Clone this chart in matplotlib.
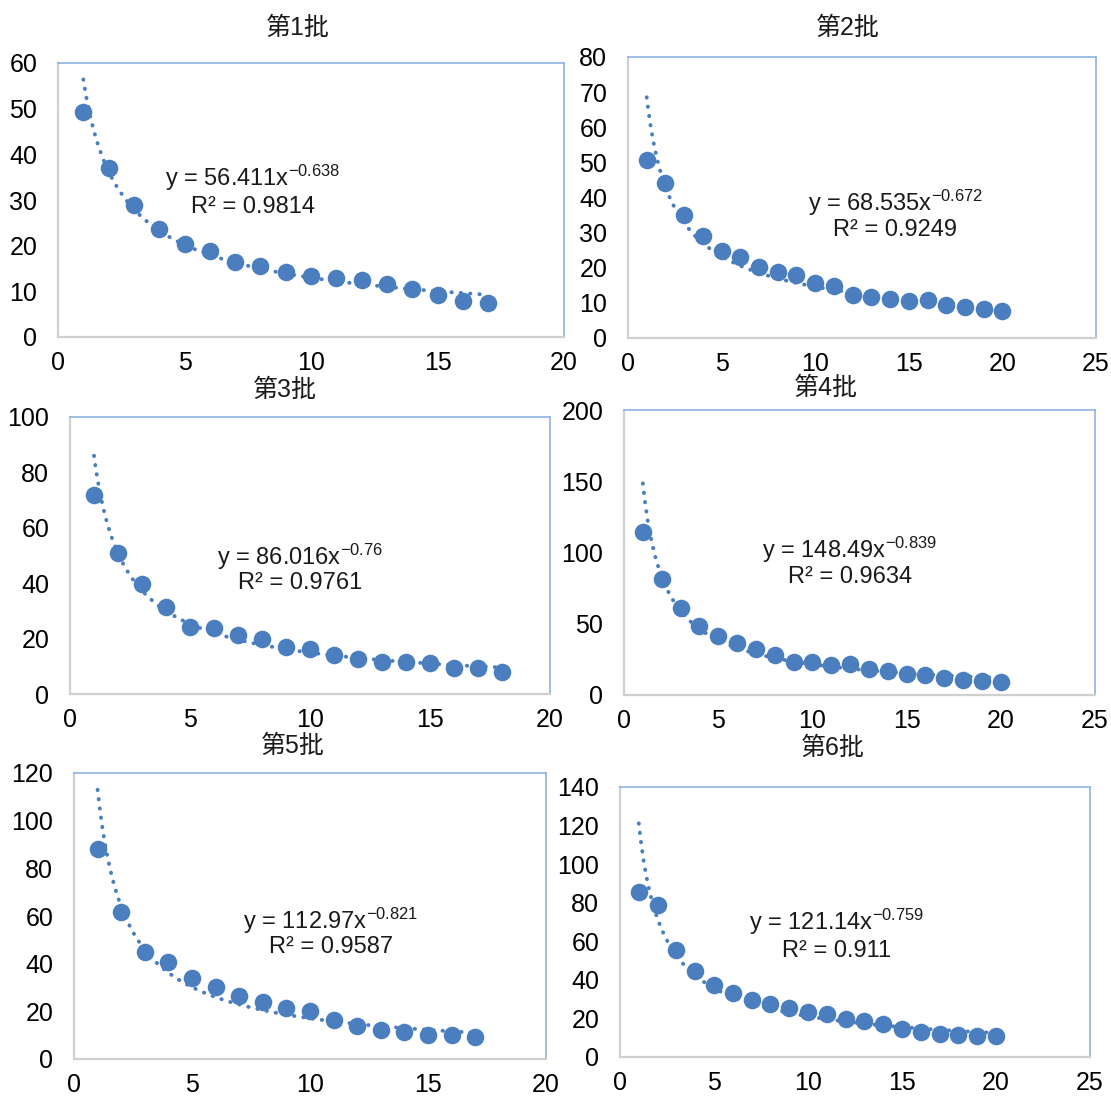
import numpy as np
import matplotlib
matplotlib.use("Agg")
import matplotlib.pyplot as plt

plt.rcParams['font.family'] = ['Liberation Sans', 'Noto Sans CJK SC', 'DejaVu Sans']
plt.rcParams['mathtext.fontset'] = 'custom'
plt.rcParams['mathtext.rm'] = 'Liberation Sans'
plt.rcParams['mathtext.it'] = 'Liberation Sans'

W, H = 1111, 1097

# --- data ---
titles = ['第1批', '第2批', '第3批', '第4批', '第5批', '第6批']

y1 = [49.3, 37.0, 28.8, 23.6, 20.3, 18.8, 16.4, 15.6, 14.3, 13.4, 12.9, 12.5, 11.7, 10.6, 9.3, 7.9, 7.5]
y2 = [50.8, 44.0, 35.1, 29.0, 24.9, 23.2, 20.1, 18.8, 18.0, 15.8, 14.7, 12.3, 11.6, 11.2, 10.4, 10.7,
      9.5, 8.7, 8.2, 7.8]
y3 = [71.7, 50.9, 39.8, 31.3, 24.3, 23.7, 21.3, 19.8, 17.1, 16.4, 14.1, 12.7, 11.7, 11.4, 11.3, 9.3,
      9.3, 7.8]
y4 = [114.6, 81.6, 61.3, 48.7, 41.2, 36.5, 32.0, 28.1, 23.2, 23.2, 20.8, 22.0, 18.5, 17.1, 15.0, 13.8,
      11.9, 10.5, 9.8, 9.4]
y5 = [88.0, 61.7, 44.9, 40.8, 33.8, 30.1, 26.4, 24.0, 21.2, 20.3, 16.3, 14.0, 12.3, 11.4, 10.0, 10.0, 9.3]
y6 = [85.4, 78.9, 55.3, 44.5, 37.3, 33.0, 29.6, 27.3, 25.3, 23.4, 22.2, 19.6, 18.9, 17.2, 14.4, 12.9,
      11.9, 11.2, 10.7, 10.7]
series = [y1, y2, y3, y4, y5, y6]

# power trendline y = a * x^b (from the chart labels)
coef_a = [56.411, 68.535, 86.016, 148.49, 112.97, 121.14]
coef_b = [-0.638, -0.672, -0.76, -0.839, -0.821, -0.759]
r2_text = ['0.9814', '0.9249', '0.9761', '0.9634', '0.9587', '0.911']
a_text = ['56.411', '68.535', '86.016', '148.49', '112.97', '121.14']
b_text = ['-0.638', '-0.672', '-0.76', '-0.839', '-0.821', '-0.759']

x_max = [20, 25, 20, 25, 20, 25]
y_max = [60, 80, 100, 200, 120, 140]
y_step = [10, 10, 20, 50, 20, 20]

# layout in pixels: left, top, right, bottom
boxes = [(58, 63, 564, 337), (628, 57, 1096, 338),
         (70, 417, 550, 694), (624, 410, 1095, 695),
         (74, 773, 546, 1059), (620, 787, 1090, 1057)]
title_pos = [(298, 28), (848, 28), (285, 390), (826, 388), (293, 746), (833, 748)]
eq_pos = [(253, 178, 207), (895, 203, 230), (300, 557, 583),
          (850, 550, 577), (331, 921, 947), (837, 922, 951)]

blue = '#4a7ebf'

fig = plt.figure(figsize=(W / 100, H / 100), dpi=100)
fig.patch.set_facecolor('white')

for i in range(6):
    l, t, r, b = boxes[i]
    ax = fig.add_axes([l / W, 1 - b / H, (r - l) / W, (b - t) / H])
    ys = np.array(series[i])
    xs = np.arange(1, len(ys) + 1)
    ax.scatter(xs, ys, s=160, color=blue, zorder=3, linewidths=0)
    xt = np.linspace(1, len(ys), 300)
    ax.plot(xt, coef_a[i] * xt ** coef_b[i], color=blue, lw=2.8,
            linestyle=(0, (0.1, 2.3)), dash_capstyle='round', zorder=4)

    ax.set_xlim(0, x_max[i])
    ax.set_ylim(0, y_max[i])
    ax.set_xticks(np.arange(0, x_max[i] + 1, 5))
    ax.set_yticks(np.arange(0, y_max[i] + 1, y_step[i]))
    ax.tick_params(length=0, labelsize=18, colors='#000000')
    ax.tick_params(axis='x', pad=10)
    ax.tick_params(axis='y', pad=15)
    for s in ['left', 'bottom']:
        ax.spines[s].set_color('#d0d0d0')
        ax.spines[s].set_linewidth(1.6)
    for s in ['top', 'right']:
        ax.spines[s].set_color('#8db3e2')
        ax.spines[s].set_linewidth(1.2)

    fig.text(title_pos[i][0] / W, 1 - title_pos[i][1] / H, titles[i],
             ha='center', va='center', fontsize=18, color='#1a1a1a')
    cx, ly1, ly2 = eq_pos[i]
    fig.text(cx / W, 1 - ly1 / H, 'y = ' + a_text[i] + 'x$^{' + b_text[i] + '}$',
             ha='center', va='center', fontsize=17, color='#1a1a1a')
    fig.text(cx / W, 1 - ly2 / H, 'R² = ' + r2_text[i],
             ha='center', va='center', fontsize=17, color='#1a1a1a')

fig.savefig('out.png', dpi=100, facecolor='white')
